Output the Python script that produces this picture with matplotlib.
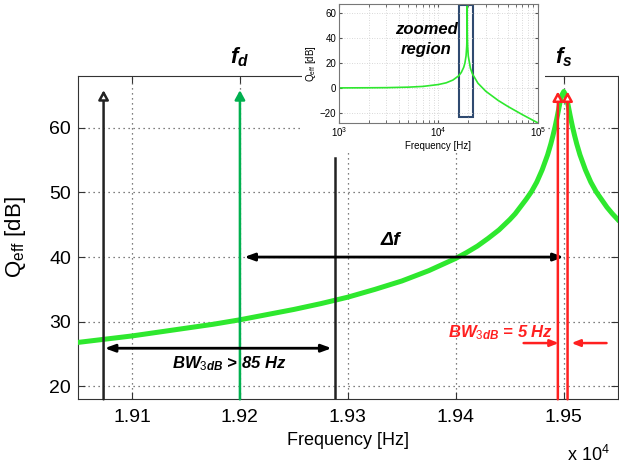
import numpy as np
import matplotlib
matplotlib.use("Agg")
import matplotlib.pyplot as plt
from matplotlib.patches import Rectangle
from matplotlib.ticker import FuncFormatter

plt.rcParams["font.family"] = ["Liberation Sans", "DejaVu Sans"]
plt.rcParams["mathtext.fontset"] = "custom"
plt.rcParams["mathtext.rm"] = "Liberation Sans"
plt.rcParams["mathtext.it"] = "Liberation Sans:italic:bold"
plt.rcParams["mathtext.bf"] = "Liberation Sans:bold"

# ── datos ───────────────────────────────────────────────────────────────
freq_zoom = [19050, 19075, 19100, 19125, 19150, 19175, 19200, 19225, 19250,
             19275, 19300, 19325, 19350, 19375, 19400, 19410, 19420, 19430,
             19440, 19450, 19455, 19460, 19465, 19470, 19475, 19480, 19485,
             19488, 19490, 19492, 19494, 19496, 19498, 19500, 19502, 19504,
             19506, 19508, 19510, 19512, 19515, 19520, 19525, 19530, 19535,
             19540, 19545, 19550]
q_zoom = [26.8, 27.3, 27.8, 28.4, 29.0, 29.6, 30.3, 31.1, 31.9,
          32.8, 33.8, 35.0, 36.3, 37.9, 39.8, 40.7, 41.7, 42.9,
          44.2, 45.8, 46.7, 47.8, 48.9, 50.1, 51.6, 53.5, 55.8,
          57.5, 58.8, 60.2, 61.8, 63.5, 65.0, 65.6, 65.0, 63.5,
          61.8, 60.2, 58.8, 57.5, 55.8, 53.5, 51.6, 50.1, 48.9,
          47.7, 46.7, 45.8]

freq_full = [1000, 2000, 3000, 5000, 7000, 10000, 12000, 14000, 16000, 17000,
             18000, 18500, 19000, 19300, 19400, 19450, 19480, 19490, 19500,
             19510, 19520, 19550, 19600, 19700, 20000, 21000, 22000, 25000,
             30000, 40000, 50000, 70000, 100000]
q_full = [0.0, 0.1, 0.2, 0.6, 1.2, 2.7, 4.1, 6.3, 9.7, 12.4,
          16.6, 20.0, 25.9, 33.8, 39.8, 45.8, 53.8, 58.8, 65.6,
          58.8, 53.8, 45.7, 39.8, 33.7, 25.7, 15.9, 11.3, 3.8,
          -2.7, -10.1, -14.9, -21.5, -28.1]

f_bw_wide = [19073.7, 19288]      # límites BW ancho (negro)
f_d = 19200                        # frecuencia de excitación
f_s = 19500                        # resonancia
f_bw_narrow = [19494.5, 19503.5]   # límites BW estrecho (rojo)
zoom_box = [16260, 22180, -23.5, 66.4]

GREEN = "#2ee82e"
DGREEN = "#00b04f"
RED = "#ff2020"

fig = plt.figure(figsize=(6.19, 4.66), dpi=100)
ax = fig.add_axes([0.126, 0.1431, 0.872, 0.6938])

# curva principal
ax.plot(freq_zoom, q_zoom, color=GREEN, lw=3.6, zorder=3)

# líneas verticales con flecha
def vline_arrow(x, top, color, fc, lw=1.8, z=4):
    ax.annotate("", xy=(x, top), xytext=(x, 18), zorder=z,
                arrowprops=dict(arrowstyle="-|>,head_length=0.55,head_width=0.3",
                                lw=lw, color=color, fc=fc, shrinkA=0, shrinkB=0))

vline_arrow(f_bw_wide[0], 65.8, "#222222", "white")
vline_arrow(f_d, 65.8, DGREEN, DGREEN)
ax.plot([f_bw_wide[1]] * 2, [18, 55.3], color="#222222", lw=1.8, zorder=4)
for xr in f_bw_narrow:
    vline_arrow(xr, 65.6, RED, "white", lw=1.8, z=5)

# flechas horizontales
ax.annotate("", xy=(f_d + 4, 40), xytext=(f_s, 40), zorder=4,
            arrowprops=dict(arrowstyle="<|-|>,head_length=0.6,head_width=0.22",
                            lw=2, color="black", shrinkA=0, shrinkB=0))
ax.annotate("", xy=(f_bw_wide[0] + 1, 25.9), xytext=(f_bw_wide[1] - 3, 25.9), zorder=4,
            arrowprops=dict(arrowstyle="<|-|>,head_length=0.6,head_width=0.22",
                            lw=2, color="black", shrinkA=0, shrinkB=0))
ax.annotate("", xy=(19495.3, 26.7), xytext=(19462.8, 26.7), zorder=5,
            arrowprops=dict(arrowstyle="-|>,head_length=0.5,head_width=0.2",
                            lw=1.8, color=RED, shrinkA=0, shrinkB=0))
ax.annotate("", xy=(19507.1, 26.7), xytext=(19539.6, 26.7), zorder=5,
            arrowprops=dict(arrowstyle="-|>,head_length=0.5,head_width=0.2",
                            lw=1.8, color=RED, shrinkA=0, shrinkB=0))

# textos
ax.text(19339, 41.8, "Δf", fontsize=14, fontweight="bold", style="italic",
        ha="center", va="baseline")
ax.text(19190, 23.5, r"$BW_{\mathit{3dB}}$ > 85 Hz", fontsize=12, fontweight="bold",
        style="italic", ha="center", va="center")
ax.text(19441, 28.3, r"$BW_{\mathit{3dB}}$ = 5 Hz", fontsize=12, fontweight="bold",
        style="italic", ha="center", va="center", color=RED)
ax.text(f_d, 69.9, r"$f_d$", fontsize=16, ha="center", va="baseline", clip_on=False)
ax.text(f_s, 69.9, r"$f_s$", fontsize=16, ha="center", va="baseline", clip_on=False)

ax.set_xlim(19050, 19550)
ax.set_ylim(18, 68)
ax.set_xticks([19100, 19200, 19300, 19400, 19500])
ax.set_yticks([20, 30, 40, 50, 60])
ax.xaxis.set_major_formatter(FuncFormatter(lambda v, p: f"{v / 1e4:.2f}"))
ax.tick_params(direction="in", length=5, labelsize=14, top=True, right=True,
               color="#333333")
ax.tick_params(axis="x", pad=7)
ax.tick_params(axis="y", pad=5)
ax.grid(True, linestyle=(0, (1, 3)), color="#555555", lw=0.9)
for s in ax.spines.values():
    s.set_color("#333333")
ax.set_xlabel("Frequency [Hz]", fontsize=13)
ax.set_ylabel(r"Q$_{\mathrm{eff}}$ [dB]", fontsize=16)
ax.yaxis.set_label_coords(-0.092, 0.5)
fig.text(0.985, 0.024, r"x 10$^{4}$", fontsize=13, ha="right", va="center")

# fondo blanco del recuadro
fig.patches.append(Rectangle((0.488, 0.678), 0.3926, 0.322, transform=fig.transFigure,
                             fc="white", ec="none", zorder=1))

# ── recuadro: respuesta completa ─────────────────────────────────────────
ins = fig.add_axes([0.5477, 0.7367, 0.321, 0.2547])
ins.set_zorder(2)
ins.semilogx(freq_full, q_full, color=GREEN, lw=1.2)
ins.add_patch(Rectangle((zoom_box[0], zoom_box[2]), zoom_box[1] - zoom_box[0],
                        zoom_box[3] - zoom_box[2], fill=False, ec="#2f4a70", lw=1.5))
ins.set_xlim(1e3, 1e5)
ins.set_ylim(-28, 67.5)
ins.set_yticks([-20, 0, 20, 40, 60])
ins.tick_params(which="both", direction="in", labelsize=7, pad=2, length=2.5,
                top=True, right=True, color="#555555")
ins.grid(True, which="both", linestyle=(0, (1, 2)), color="#cccccc", lw=0.6)
for s in ins.spines.values():
    s.set_color("#777777")
ins.set_xlabel("Frequency [Hz]", fontsize=7, labelpad=1)
ins.set_ylabel(r"Q$_{\mathrm{eff}}$ [dB]", fontsize=7, labelpad=1)
ins.text(7500, 39, "zoomed\nregion", fontsize=12, fontweight="bold",
         style="italic", ha="center", va="center", linespacing=1.45)

fig.savefig("out.png", dpi=100, facecolor="white")
